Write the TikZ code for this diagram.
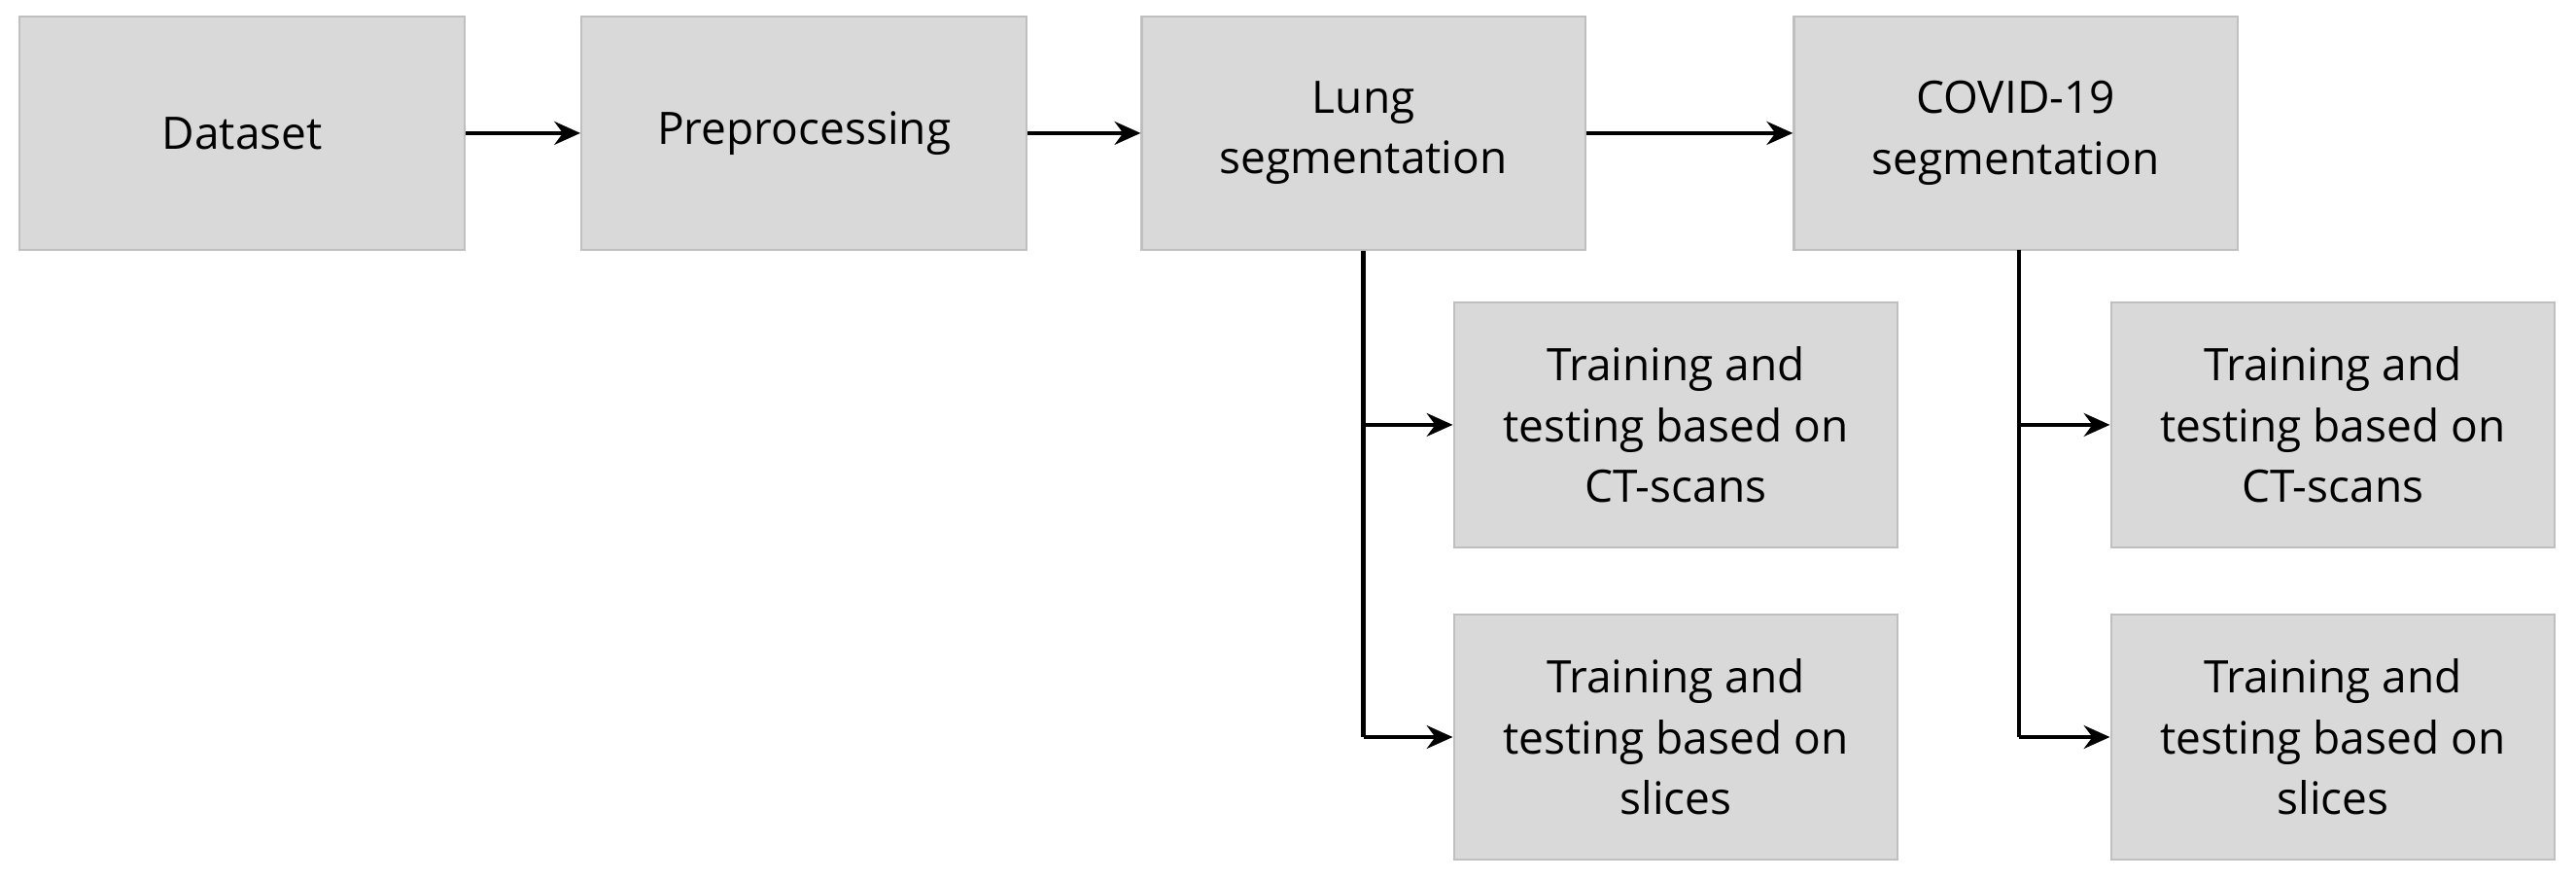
\documentclass[tikz,border=0pt]{standalone}
\usepackage{fontspec}
\setmainfont{Open Sans}
\usetikzlibrary{arrows.meta}
\begin{document}
\begin{tikzpicture}[x=0.02cm,y=-0.02cm,
  box/.style={draw=black!25,fill=black!15,line width=0.8pt,inner sep=0pt,align=center,
    font=\fontsize{15.5}{21}\selectfont},
  arr/.style={line width=1.6pt,-{Stealth[length=9pt,width=8pt]}}]
\useasboundingbox (0,0) rectangle (1568,535);
\node[box,minimum width=271*0.02cm,minimum height=142*0.02cm] (d) at (147.5,81) {Dataset};
\node[box,minimum width=271*0.02cm,minimum height=142*0.02cm] (p) at (489.5,81) {Preprocessing};
\node[box,minimum width=270*0.02cm,minimum height=142*0.02cm] (l) at (830,81) {Lung\\segmentation};
\node[box,minimum width=270*0.02cm,minimum height=142*0.02cm] (c) at (1227,81) {COVID-19\\segmentation};
\node[box,minimum width=270*0.02cm,minimum height=149*0.02cm] (l1) at (1020,258.5) {Training and\\testing based on\\CT-scans};
\node[box,minimum width=270*0.02cm,minimum height=149*0.02cm] (l2) at (1020,448.5) {Training and\\testing based on\\slices};
\node[box,minimum width=270*0.02cm,minimum height=149*0.02cm] (c1) at (1420,258.5) {Training and\\testing based on\\CT-scans};
\node[box,minimum width=270*0.02cm,minimum height=149*0.02cm] (c2) at (1420,448.5) {Training and\\testing based on\\slices};
\draw[arr] (d) -- (p);
\draw[arr] (p) -- (l);
\draw[arr] (l) -- (c);
\coordinate (lj) at (l.south |- l2.west);
\coordinate (cj) at (1229,0 |- c2.west);
\draw[line width=1.6pt] (l.south) -- (lj);
\draw[arr] (lj) -- (l2.west);
\draw[arr] (l.south |- l1.west) -- (l1.west);
\draw[line width=1.6pt] (1229,152) -- (cj);
\draw[arr] (cj) -- (c2.west);
\draw[arr] (1229,258.5) -- (c1.west);
\end{tikzpicture}
\end{document}
